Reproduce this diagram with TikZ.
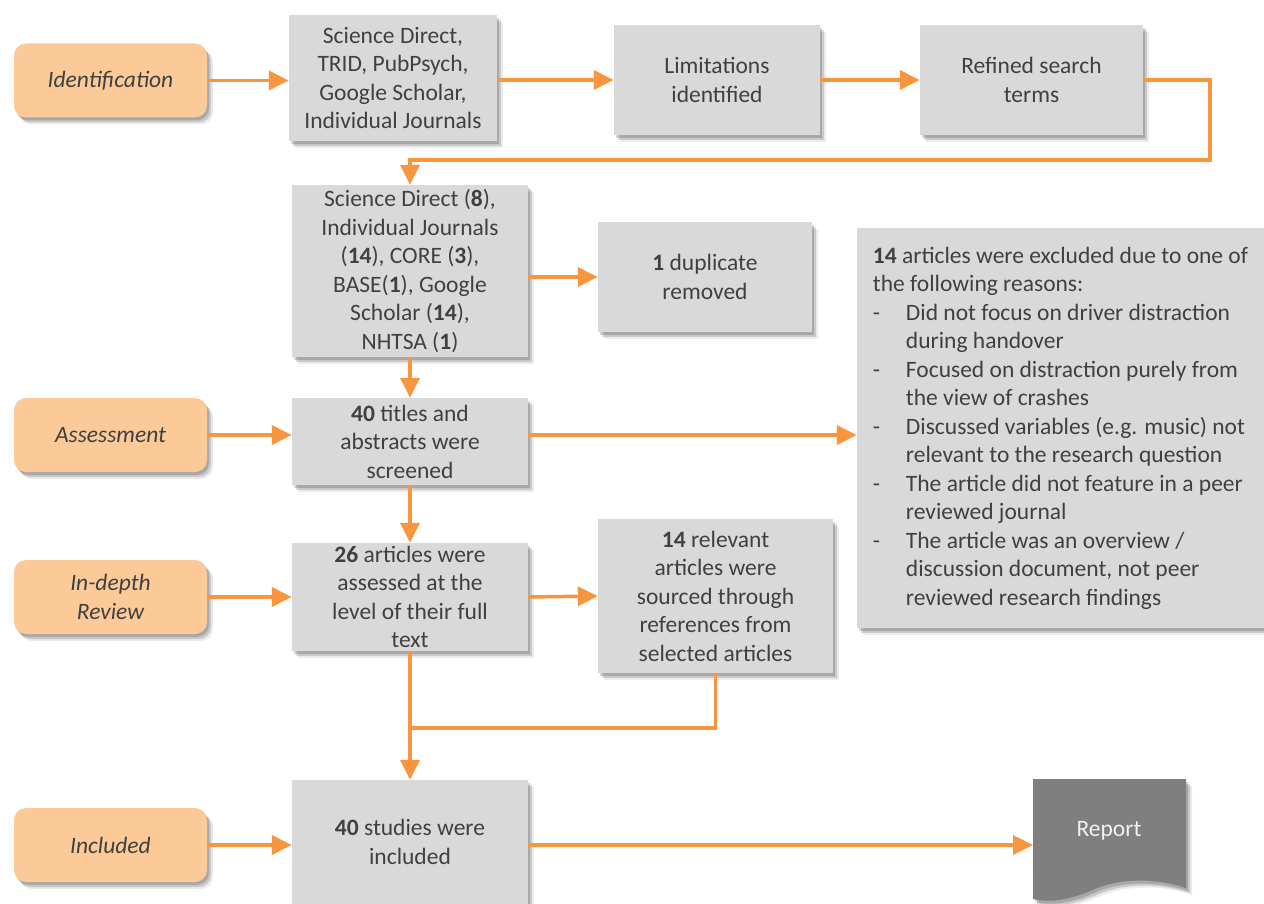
\documentclass[tikz,border=0pt]{standalone}
\usepackage{fontspec}
\setmainfont{Carlito}
\usetikzlibrary{arrows.meta,shadows,calc}
\definecolor{lineor}{HTML}{F7963F}
\definecolor{labfill}{HTML}{FBCA98}
\definecolor{boxfill}{HTML}{D9D9D9}
\definecolor{txt}{HTML}{404040}
\definecolor{repfill}{HTML}{7F7F7F}
\begin{document}
\begin{tikzpicture}[x=1pt,y=-1pt,
  every node/.style={font=\fontsize{23.5}{28.5}\selectfont, text=txt},
  shad/.style={drop shadow={shadow xshift=2pt,shadow yshift=-3pt,opacity=0.16,fill=black},
               drop shadow={shadow xshift=4pt,shadow yshift=-5pt,opacity=0.14,fill=black},
               drop shadow={shadow xshift=6pt,shadow yshift=-7pt,opacity=0.08,fill=black}},
  gbox/.style={fill=boxfill, draw=none, align=center, inner sep=0pt, shad},
  lab/.style={fill=labfill, rounded corners=12pt, align=center, inner sep=0pt,
    minimum width=193pt, minimum height=74pt, shad,
    font=\fontsize{23.5}{28.5}\selectfont\itshape},
  conn/.style={draw=lineor, line width=3.5pt, -{Triangle[length=20pt,width=19pt]}},
  seg/.style={draw=lineor, line width=3.5pt}
]
\useasboundingbox[fill=white] (0,0) rectangle (1264,904);

% stage labels
\node[lab] (lid) at (110.5,80.5) {Identification};
\node[lab] (las) at (110.5,435) {Assessment};
\node[lab] (lrv) at (110.5,597) {In-depth\\Review};
\node[lab] (lin) at (110.5,845) {Included};

% grey boxes
\node[gbox, minimum width=208pt, minimum height=126pt] (A) at (393,78)
  {Science Direct,\\TRID, PubPsych,\\Google Scholar,\\Individual Journals};
\node[gbox, minimum width=206pt, minimum height=110pt] (B) at (717,80)
  {Limitations\\identified};
\node[gbox, minimum width=223pt, minimum height=110pt] (C) at (1031.5,80)
  {Refined search\\terms};
\node[gbox, minimum width=236pt, minimum height=172pt] (D) at (410,271)
  {Science Direct (\textbf{8}),\\Individual Journals\\(\textbf{14}), CORE (\textbf{3}),\\BASE(\textbf{1}), Google\\Scholar (\textbf{14}),\\NHTSA (\textbf{1})};
\node[gbox, minimum width=214pt, minimum height=110pt] (E) at (705,277)
  {\textbf{1} duplicate\\removed};
\node[gbox, minimum width=407pt, minimum height=400pt, align=left] (F) at (1060.5,428)
  {\textbf{14} articles were excluded due to one of\\
   the following reasons:\\
   \makebox[33pt][l]{-}Did not focus on driver distraction\\
   \hspace*{33pt}during handover\\
   \makebox[33pt][l]{-}Focused on distraction purely from\\
   \hspace*{33pt}the view of crashes\\
   \makebox[33pt][l]{-}Discussed variables (e.g. music) not\\
   \hspace*{33pt}relevant to the research question\\
   \makebox[33pt][l]{-}The article did not feature in a peer\\
   \hspace*{33pt}reviewed journal\\
   \makebox[33pt][l]{-}The article was an overview /\\
   \hspace*{33pt}discussion document, not peer\\
   \hspace*{33pt}reviewed research findings};
\node[gbox, minimum width=236pt, minimum height=87pt] (G) at (410,441.5)
  {\textbf{40} titles and\\abstracts were\\screened};
\node[gbox, minimum width=236pt, minimum height=108pt] (H) at (410,597)
  {\textbf{26} articles were\\assessed at the\\level of their full\\text};
\node[gbox, minimum width=235pt, minimum height=154pt] (I) at (715.5,596)
  {\textbf{14} relevant\\articles were\\sourced through\\references from\\selected articles};
\node[gbox, minimum width=236pt, minimum height=124pt] (J) at (410,842)
  {\textbf{40} studies were\\included};

% report document shape
\foreach \dx/\dy/\op in {2/3/0.16,4/5/0.14,6/7/0.08}{
\fill[black, opacity=\op, shift={(\dx pt,-\dy pt)}]
  (1033,779) -- (1186,779) -- (1186,888)
  .. controls (1150,876) and (1115,880) .. (1095,889)
  .. controls (1070,900) and (1050,903) .. (1033,899) -- cycle;}
\fill[repfill]
  (1033,779) -- (1186,779) -- (1186,888)
  .. controls (1150,876) and (1115,880) .. (1095,889)
  .. controls (1070,900) and (1050,903) .. (1033,899) -- cycle;
\node[text=white!95!black] (rep) at (1109,831) {Report};
\coordinate (repw) at (1033,845);

% connectors
\draw[conn] (lid.east) -- (lid.east -| A.west);
\draw[conn] (A.east |- B.west) -- (B.west);
\draw[conn] (B.east) -- (C.west);
\coordinate (loop) at (1210,160);
\draw[conn] (C.east) -| (loop) -| (D.north);
\draw[conn] (D.east |- E.west) -- (E.west);
\draw[conn] (D.south) -- (G.north);
\draw[conn] (las.east) -- (las.east -| G.west);
\draw[conn] (las.east -| G.east) -- (las.east -| F.west);
\draw[conn] (G.south) -- (H.north);
\draw[conn] (lrv.east) -- (lrv.east -| H.west);
\draw[conn] (H.east) -- (I.west);
\coordinate (join) at (410,728);
\draw[seg] (I.south) |- (join);
\draw[conn] (H.south) -- (J.north);
\draw[conn] (lin.east) -- (lin.east -| J.west);
\draw[conn] (lin.east -| J.east) -- (repw);
\end{tikzpicture}
\end{document}
